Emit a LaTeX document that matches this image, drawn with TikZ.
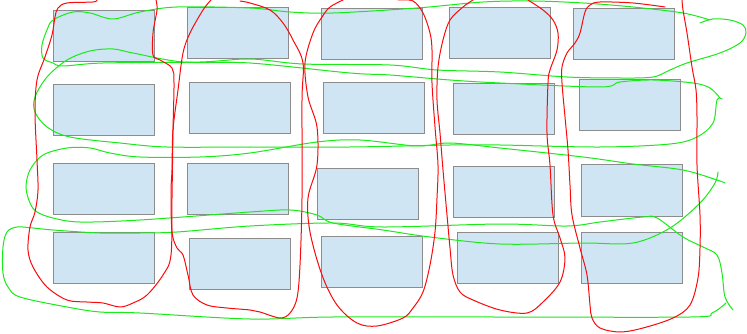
\documentclass[tikz,border=0pt]{standalone}
\begin{document}
\begin{tikzpicture}[x=1pt,y=-1pt,
  box/.style={draw={rgb,255:red,140;green,140;blue,140},fill={rgb,255:red,207;green,229;blue,243},line width=1pt,minimum width=101pt,minimum height=51pt,inner sep=0pt},
  redline/.style={draw={rgb,255:red,250;green,10;blue,10},line width=1pt,line join=round,line cap=round},
  greenline/.style={draw={rgb,255:red,25;green,235;blue,25},line width=1pt,line join=round,line cap=round}]
\useasboundingbox (0,0) rectangle (747,334);
\fill[white] (0,0) rectangle (747,334);
% boxes
\node[box] (b11) at (104,36.5) {};
\node[box] (b12) at (238,33.5) {};
\node[box] (b13) at (372,34) {};
\node[box] (b14) at (500,33.5) {};
\node[box] (b15) at (624,34) {};
\node[box] (b21) at (104,110) {};
\node[box] (b22) at (240,108) {};
\node[box] (b23) at (374,108) {};
\node[box] (b24) at (504,109) {};
\node[box] (b25) at (630,105) {};
\node[box] (b31) at (104,189) {};
\node[box] (b32) at (238,189) {};
\node[box] (b33) at (368,194) {};
\node[box] (b34) at (504,192) {};
\node[box] (b35) at (632,190.5) {};
\node[box] (b41) at (104,258) {};
\node[box] (b42) at (240,264) {};
\node[box] (b43) at (372,262) {};
\node[box] (b44) at (508,258) {};
\node[box] (b45) at (632,258) {};
% green rows
\draw[greenline] plot[smooth,tension=0.55] coordinates {(700,23) (713,19) (730,20) (743,25) (746,33) (740,43) (720,53) (687,63) (670,70) (653,77) (620,78) (567,77) (500,72) (437,70) (390,65) (303,64) (250,59) (200,62) (103,63) (63,66) (53,63) (43,58) (42,45) (47,30) (53,20) (73,12) (90,13) (113,19) (140,12) (177,7) (250,8) (290,12) (333,13) (417,8) (483,2) (533,1) (583,3) (633,7) (683,13) (710,20)};
\draw[greenline] plot[smooth,tension=0.55] coordinates {(720,98) (710,88) (693,83) (653,80) (620,82) (600,87) (500,83) (450,80) (390,75) (350,73) (250,63) (183,62) (133,53) (113,49) (90,51) (67,60) (47,77) (35,97) (35,112) (47,127) (70,137) (120,143) (167,147) (250,147) (350,147) (450,145) (500,145) (600,147) (670,144) (697,137) (713,123) (717,100) (722,99)};
\draw[greenline] plot[smooth,tension=0.55] coordinates {(725,183) (717,180) (683,170) (633,164) (583,157) (500,148) (450,143) (417,146) (360,140) (317,142) (250,153) (200,157) (140,157) (110,153) (90,148) (67,148) (43,155) (30,170) (26,187) (30,203) (37,212) (53,218) (80,222) (140,220) (250,212) (290,210) (317,215) (333,223) (383,230) (430,237) (500,244) (583,243) (633,243) (670,228) (700,203) (715,183) (718,172)};
\draw[greenline] plot[smooth,tension=0.55] coordinates {(733,310) (725,297) (722,273) (717,255) (703,247) (683,237) (657,218) (643,217) (600,222) (567,226) (500,224) (383,227) (333,223) (250,226) (177,232) (140,233) (100,233) (53,230) (33,228) (17,227) (7,232) (3,247) (3,273) (8,287) (20,297) (67,307) (100,312) (140,313) (250,319) (333,317) (500,317) (690,317) (712,313) (726,303)};
% red columns
\draw[redline] plot[smooth,tension=0.55] coordinates {(97,0) (93,2) (67,3) (58,8) (55,17) (52,35) (45,57) (37,80) (35,113) (37,160) (38,190) (35,212) (30,227) (28,250) (33,267) (47,287) (67,300) (87,302) (103,303) (120,307) (133,303) (147,295) (163,275) (171,255) (172,198) (173,130) (174,83) (172,68) (160,60) (153,55) (153,33) (157,10) (156,0)};
\draw[redline] plot[smooth,tension=0.55] coordinates {(211,0) (203,10) (190,33) (183,53) (178,90) (173,130) (172,170) (171,192) (172,232) (177,248) (183,255) (188,275) (193,295) (207,305) (227,308) (250,310) (260,312) (280,318) (290,313) (297,298) (300,265) (302,198) (302,100) (303,63) (293,40) (283,23) (270,10) (250,3) (240,1)};
\draw[redline] plot[smooth,tension=0.55] coordinates {(343,0) (330,7) (322,17) (313,33) (305,63) (308,97) (317,127) (317,165) (308,198) (310,232) (322,275) (337,305) (357,323) (377,326) (403,318) (413,308) (423,292) (430,265) (435,232) (437,198) (438,165) (435,127) (432,83) (432,50) (430,33) (423,13) (413,1) (398,0)};
\draw[redline] plot[smooth,tension=0.55] coordinates {(473,0) (463,7) (450,20) (443,40) (438,67) (437,100) (440,133) (443,170) (447,215) (450,248) (453,275) (460,292) (473,300) (500,310) (527,313) (543,302) (560,282) (565,258) (560,238) (553,215) (550,165) (547,133) (548,83) (550,70) (557,50) (558,33) (553,20) (543,10) (528,0)};
\draw[redline] plot[smooth,tension=0.55] coordinates {(665,7) (633,3) (600,2) (590,5) (585,12) (580,33) (575,43) (567,53) (562,67) (562,83) (565,117) (568,150) (570,185) (572,215) (580,248) (587,275) (590,305) (592,318) (600,328) (620,332) (643,328) (673,318) (690,305) (698,278) (700,248) (700,215) (697,165) (697,117) (696,90) (692,67) (687,33) (683,10) (682,0)};
\end{tikzpicture}
\end{document}
